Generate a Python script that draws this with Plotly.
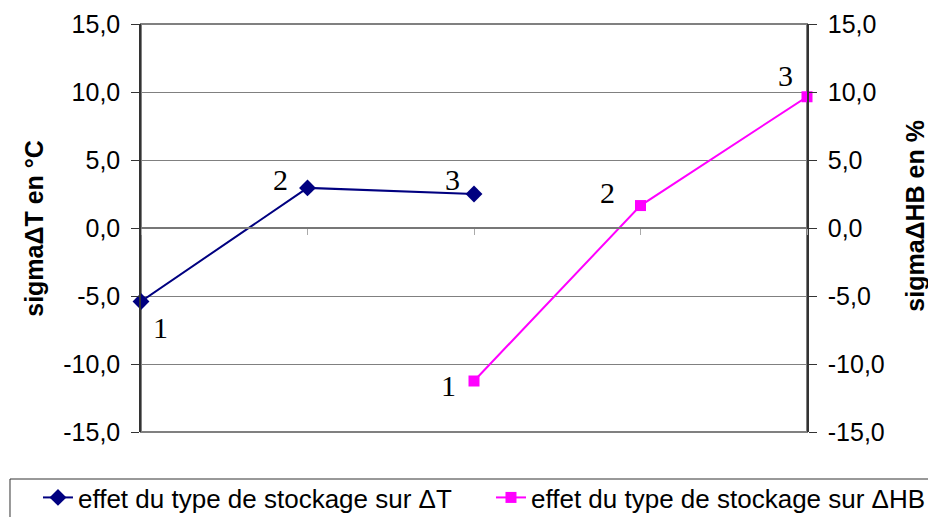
import plotly.graph_objects as go

# category slots on the x axis (no labels shown)
X_T = [0, 1, 2]
X_HB = [2, 3, 4]
SIGMA_T = [-5.4, 2.95, 2.5]
SIGMA_HB = [-11.25, 1.65, 9.65]
POINT_LABELS = ["1", "2", "3"]

Y_TICKS = [-15, -10, -5, 0, 5, 10, 15]
Y_TICKTEXT = ["-15,0", "-10,0", "-5,0", "0,0", "5,0", "10,0", "15,0"]

NAME_T = "effet du type de stockage sur ΔT"
NAME_HB = "effet du type de stockage sur ΔHB"

FONT = "Arial, Liberation Sans, sans-serif"
SERIF = "Times New Roman, Liberation Serif, serif"

# pixel offsets of the point number labels (x right, y up)
OFFSETS_T = [(19, -26), (-27, 8), (-22, 15)]
OFFSETS_HB = [(-26, -4), (-33, 13), (-22, 21)]

fig = go.Figure()

fig.add_trace(go.Scatter(
    x=X_T, y=SIGMA_T, name=NAME_T,
    mode="lines+markers",
    line=dict(color="#000080", width=2),
    marker=dict(symbol="diamond", size=13, color="#000080"),
    cliponaxis=False,
    legend="legend",
))

fig.add_trace(go.Scatter(
    x=X_HB, y=SIGMA_HB, name=NAME_HB,
    mode="lines+markers",
    line=dict(color="#FF00FF", width=2),
    marker=dict(symbol="square", size=11, color="#FF00FF"),
    yaxis="y2",
    cliponaxis=False,
    legend="legend2",
))

annotations = []
for xs, ys, offs, yref in [(X_T, SIGMA_T, OFFSETS_T, "y"), (X_HB, SIGMA_HB, OFFSETS_HB, "y2")]:
    for x, y, lab, (dx, dy) in zip(xs, ys, POINT_LABELS, offs):
        annotations.append(dict(
            x=x, y=y, xref="x", yref=yref, text=lab, showarrow=False,
            xshift=dx, yshift=dy,
            font=dict(family=SERIF, size=30, color="black"),
        ))

annotations += [
    dict(text="<b>sigmaΔT en °C</b>", xref="paper", yref="paper",
         x=-0.161, y=0.5, xanchor="center", yanchor="middle",
         textangle=-90, showarrow=False,
         font=dict(family=FONT, size=25, color="black")),
    dict(text="<b>sigmaΔHB en %</b>", xref="paper", yref="paper",
         x=1.162, y=0.53, xanchor="center", yanchor="middle",
         textangle=-90, showarrow=False,
         font=dict(family=FONT, size=25, color="black")),
]

yaxis_common = dict(
    range=[-15, 15],
    tickvals=Y_TICKS,
    ticktext=Y_TICKTEXT,
    ticks="outside",
    ticklen=8,
    tickcolor="#333333",
    ticklabelstandoff=6,
    showline=True,
    linecolor="#333333",
    linewidth=1.5,
    zeroline=False,
    tickfont=dict(family=FONT, size=25, color="black"),
)

legend_common = dict(
    orientation="h",
    xanchor="left",
    y=-0.103, yanchor="top",
    font=dict(family=FONT, size=26, color="black"),
    borderwidth=0,
    bgcolor="rgba(0,0,0,0)",
)

fig.update_layout(
    width=928, height=517,
    margin=dict(l=141, r=121, t=24, b=85, autoexpand=False),
    paper_bgcolor="white",
    plot_bgcolor="white",
    showlegend=True,
    xaxis=dict(
        range=[0, 4],
        tickvals=[0, 1, 2, 3, 4],
        showticklabels=False,
        ticks="outside", ticklen=6, tickcolor="#aaaaaa",
        showgrid=False, zeroline=False,
        showline=True, linecolor="#777777", linewidth=1.5,
        anchor="free", position=0.5,
    ),
    yaxis=dict(**yaxis_common, showgrid=True, gridcolor="#808080", gridwidth=1),
    yaxis2=dict(**yaxis_common, overlaying="y", side="right", showgrid=False),
    legend=dict(**legend_common, x=-0.1547),
    legend2=dict(**legend_common, x=0.5255),
    shapes=[
        # plot area frame
        dict(type="rect", xref="paper", yref="paper", x0=0, x1=1, y0=0, y1=1,
             line=dict(color="#808080", width=2), layer="below"),
        # legend box
        dict(type="rect", xref="paper", yref="paper",
             x0=-0.1967, x1=1.2, y0=-0.23, y1=-0.1152,
             line=dict(color="#333333", width=1), layer="below"),
    ],
    annotations=annotations,
)

# drop the browser's default page margin so the figure sits at the top-left corner
fig.write_html(
    "out.html",
    config={"displayModeBar": False},
    post_script="document.body.style.margin='0';",
)
